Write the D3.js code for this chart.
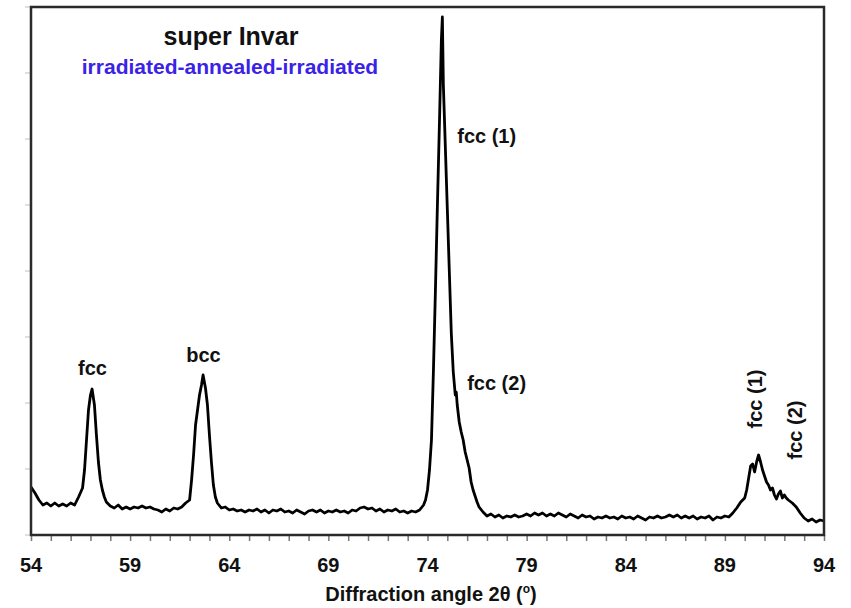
<!DOCTYPE html>
<html>
<head>
<meta charset="utf-8">
<script src="https://cdn.jsdelivr.net/npm/d3@7"></script>
<style>
  body { margin: 0; background: #fff; }
  svg { display: block; font-family: "Liberation Sans", Arial, sans-serif; }
  .lbl { font-weight: bold; font-size: 20px; fill: #111; }
</style>
</head>
<body>
<script>
width = 851;
height = 608;

// diffraction angle 2theta (deg)
var twoTheta = [
  54.0, 54.2, 54.4, 54.6, 54.8, 55.0, 55.2, 55.4, 55.6, 55.8,
  56.0, 56.2, 56.4, 56.6, 56.7, 56.8, 56.9, 57.0, 57.08, 57.2,
  57.3, 57.4, 57.5, 57.6, 57.7, 57.8, 58.0, 58.2, 58.4, 58.6,
  58.8, 59.0, 59.2, 59.4, 59.6, 59.8, 60.0, 60.2, 60.4, 60.6,
  60.8, 61.0, 61.2, 61.4, 61.6, 61.8, 62.0, 62.1, 62.2, 62.3,
  62.4, 62.5, 62.6, 62.68, 62.8, 62.9, 63.0, 63.1, 63.2, 63.3,
  63.4, 63.6, 63.8, 64.0, 64.2, 64.4, 64.6, 64.8, 65.0, 65.2,
  65.4, 65.6, 65.8, 66.0, 66.2, 66.4, 66.6, 66.8, 67.0, 67.2,
  67.4, 67.6, 67.8, 68.0, 68.2, 68.4, 68.6, 68.8, 69.0, 69.2,
  69.4, 69.6, 69.8, 70.0, 70.2, 70.4, 70.6, 70.8, 71.0, 71.2,
  71.4, 71.6, 71.8, 72.0, 72.2, 72.4, 72.6, 72.8, 73.0, 73.2,
  73.4, 73.6, 73.8, 73.9, 74.0, 74.1, 74.2, 74.3, 74.4, 74.5,
  74.6, 74.7, 74.75, 74.8, 74.9, 75.0, 75.1, 75.2, 75.3, 75.4,
  75.45, 75.5, 75.6, 75.7, 75.8, 75.9, 76.0, 76.1, 76.2, 76.3,
  76.4, 76.5, 76.6, 76.8, 77.0, 77.2, 77.4, 77.6, 77.8, 78.0,
  78.2, 78.4, 78.6, 78.8, 79.0, 79.2, 79.4, 79.6, 79.8, 80.0,
  80.2, 80.4, 80.6, 80.8, 81.0, 81.2, 81.4, 81.6, 81.8, 82.0,
  82.2, 82.4, 82.6, 82.8, 83.0, 83.2, 83.4, 83.6, 83.8, 84.0,
  84.2, 84.4, 84.6, 84.8, 85.0, 85.2, 85.4, 85.6, 85.8, 86.0,
  86.2, 86.4, 86.6, 86.8, 87.0, 87.2, 87.4, 87.6, 87.8, 88.0,
  88.2, 88.4, 88.6, 88.8, 89.0, 89.2, 89.4, 89.6, 89.8, 90.0,
  90.1, 90.2, 90.3, 90.4, 90.5, 90.6, 90.7, 90.8, 90.9, 91.0,
  91.1, 91.2, 91.3, 91.4, 91.5, 91.6, 91.7, 91.8, 91.9, 92.0,
  92.1, 92.2, 92.4, 92.6, 92.8, 93.0, 93.2, 93.4, 93.6, 93.8,
  94.0
];

// intensity (arb. units)
var intensity = [
  96, 84, 70, 60, 64, 58, 64, 58, 62, 58,
  64, 60, 76, 94, 130, 190, 250, 280, 292, 260,
  200, 146, 110, 90, 76, 66, 58, 54, 60, 52,
  56, 52, 56, 54, 58, 54, 56, 52, 50, 46,
  52, 48, 54, 52, 56, 64, 70, 110, 160, 220,
  250, 280, 300, 320, 294, 260, 200, 146, 100, 76,
  64, 54, 56, 50, 52, 48, 50, 46, 50, 48,
  52, 46, 50, 44, 50, 48, 52, 46, 48, 44,
  50, 46, 42, 48, 50, 46, 50, 44, 48, 46,
  50, 46, 48, 44, 50, 48, 54, 56, 52, 54,
  48, 52, 46, 50, 48, 52, 46, 48, 44, 48,
  46, 50, 60, 70, 90, 130, 190, 330, 490, 660,
  820, 990, 1036, 900, 776, 652, 528, 404, 326, 280,
  286, 260, 226, 206, 190, 166, 150, 134, 106, 90,
  78, 66, 56, 46, 38, 42, 36, 40, 34, 38,
  36, 40, 36, 38, 42, 38, 44, 40, 44, 38,
  42, 38, 44, 40, 36, 42, 38, 34, 40, 36,
  38, 32, 36, 34, 38, 34, 36, 32, 38, 34,
  36, 32, 38, 34, 30, 36, 34, 38, 34, 36,
  40, 36, 40, 34, 38, 34, 38, 32, 36, 34,
  38, 30, 36, 34, 38, 36, 44, 54, 66, 74,
  90, 114, 138, 142, 126, 146, 160, 146, 130, 118,
  106, 100, 90, 94, 80, 72, 82, 88, 74, 80,
  74, 70, 64, 56, 44, 34, 28, 32, 26, 30,
  28
];

var xMajorTicks = [54, 59, 64, 69, 74, 79, 84, 89, 94];
var yTickValues = [0, 132, 264, 396, 528, 660, 792, 924, 1056];

// peak labels: [text, angle, intensity, rotated]
var peakLabels = [
  ["fcc", 57.1, 320, false],
  ["bcc", 62.7, 346, false],
  ["fcc (1)", 75.5, 784, false],
  ["fcc (2)", 76.0, 290, false],
  ["fcc (1)", 90.85, 272, true],
  ["fcc (2)", 92.9, 210, true]
];

var title = "super Invar";
var subtitle = "irradiated-annealed-irradiated";

var data = twoTheta.map(function (t, i) {
  return [t, intensity[i]];
});

plot = { left: 31, right: 824, top: 7, bottom: 535 };

x = d3.scaleLinear().domain([54, 94]).range([plot.left, plot.right]);
y = d3.scaleLinear().domain([0, 1056]).range([plot.bottom, plot.top]);

const svg = d3
  .select("body")
  .append("svg")
  .attr("width", width)
  .attr("height", height)
  .attr("viewBox", [0, 0, width, height]);

// faint y ticks outside left edge
svg
  .append("g")
  .selectAll("line")
  .data(yTickValues)
  .enter()
  .append("line")
  .attr("x1", plot.left - 6)
  .attr("x2", plot.left)
  .attr("y1", (d) => y(d))
  .attr("y2", (d) => y(d))
  .attr("stroke", "#d4d4d4")
  .attr("stroke-width", 1.5);

// minor + major x ticks (every degree)
const xAxis = d3
  .axisBottom(x)
  .ticks(40)
  .tickSize(6)
  .tickFormat("");
const gX = svg
  .append("g")
  .attr("transform", `translate(0,${plot.bottom})`)
  .call(xAxis);
gX.select(".domain").remove();
gX.selectAll("line").attr("stroke", "#777").attr("stroke-width", 1.5);

// tick labels
svg
  .append("g")
  .selectAll("text")
  .data(xMajorTicks)
  .enter()
  .append("text")
  .attr("class", "lbl")
  .attr("x", (d) => x(d))
  .attr("y", 572)
  .attr("text-anchor", "middle")
  .text((d) => d);

// axis title
const xt = svg
  .append("text")
  .attr("class", "lbl")
  .attr("x", 431)
  .attr("y", 601)
  .attr("text-anchor", "middle");
xt.append("tspan").text("Diffraction angle 2θ (");
xt.append("tspan")
  .attr("font-size", "12px")
  .attr("dy", -8)
  .text("o");
xt.append("tspan").attr("dy", 8).text(")");

// pattern
const line = d3
  .line()
  .x((d) => x(d[0]))
  .y((d) => y(d[1]));

svg
  .append("path")
  .datum(data)
  .attr("d", line)
  .attr("fill", "none")
  .attr("stroke", "#000")
  .attr("stroke-width", 2.8)
  .attr("stroke-linejoin", "round");

// frame
svg
  .append("rect")
  .attr("x", plot.left)
  .attr("y", plot.top)
  .attr("width", plot.right - plot.left)
  .attr("height", plot.bottom - plot.top)
  .attr("fill", "none")
  .attr("stroke", "#2a2a2a")
  .attr("stroke-width", 2.5);

// titles
svg
  .append("text")
  .attr("x", 231)
  .attr("y", 45)
  .attr("text-anchor", "middle")
  .attr("font-weight", "bold")
  .attr("font-size", "25px")
  .attr("fill", "#111")
  .text(title);

svg
  .append("text")
  .attr("x", 230)
  .attr("y", 74)
  .attr("text-anchor", "middle")
  .attr("font-weight", "bold")
  .attr("font-size", "21px")
  .attr("fill", "#3a22e6")
  .text(subtitle);

// peak labels
svg
  .append("g")
  .selectAll("text")
  .data(peakLabels)
  .enter()
  .append("text")
  .attr("class", "lbl")
  .attr("text-anchor", (d) => (!d[3] && d[1] > 74 ? "start" : "middle"))
  .attr("transform", function (d) {
    return d[3]
      ? `translate(${x(d[1])},${y(d[2])}) rotate(-90)`
      : `translate(${x(d[1])},${y(d[2])})`;
  })
  .text((d) => d[0]);
</script>
</body>
</html>
